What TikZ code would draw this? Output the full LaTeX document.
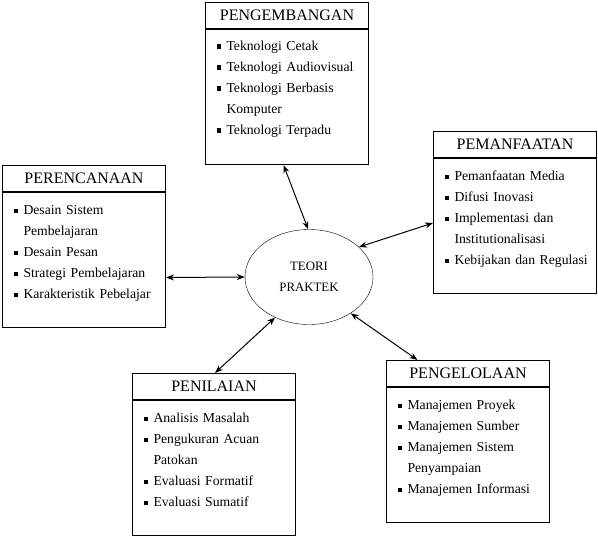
\documentclass[tikz,border=0pt]{standalone}
\usepackage{fontspec}
\setmainfont{Liberation Serif}
\usetikzlibrary{arrows.meta,positioning,shapes.geometric}
\newcommand{\itm}[1]{\makebox[10pt][l]{\raisebox{1.6pt}{\rule{4.2pt}{4.2pt}}}\mbox{#1}}
\newcommand{\cont}[1]{\hspace*{10pt}\mbox{#1}}
\newcommand{\tailgap}{\\[-5pt]\mbox{}}

\begin{document}
\begin{tikzpicture}[x=1pt,y=-1pt,
  every node/.style={font=\fontsize{13.7}{21}\selectfont},
  headbox/.style={draw,line width=1pt,minimum width=163pt,minimum height=26pt,
    inner sep=0pt,font=\fontsize{16}{18}\selectfont,anchor=north west},
  listbox/.style={draw,line width=1pt,text width=141pt,minimum height=135pt,
    inner xsep=11pt,inner ysep=3pt,align=left},
  link/.style={{Stealth[length=8pt,width=6pt]}-{Stealth[length=8pt,width=6pt]},
    line width=1pt}]
  \useasboundingbox (0,0) rectangle (598,536);

  % the five areas
  \node[headbox] (pengembangan) at (205,2) {PENGEMBANGAN};
  \node[listbox,below=0pt of pengembangan] (pengembangan-list)
    {\itm{Teknologi Cetak}\\ \itm{Teknologi Audiovisual}\\ \itm{Teknologi Berbasis}\\
     \cont{Komputer}\\ \itm{Teknologi Terpadu}\\[-2pt]\mbox{}};

  \node[headbox] (perencanaan) at (2,165) {PERENCANAAN};
  \node[listbox,below=0pt of perencanaan] (perencanaan-list)
    {\itm{Desain Sistem}\\ \cont{Pembelajaran}\\ \itm{Desain Pesan}\\
     \itm{Strategi Pembelajaran}\\ \itm{Karakteristik Pebelajar}\tailgap};

  \node[headbox] (pemanfaatan) at (433,131) {PEMANFAATAN};
  \node[listbox,below=0pt of pemanfaatan] (pemanfaatan-list)
    {\itm{Pemanfaatan Media}\\ \itm{Difusi Inovasi}\\ \itm{Implementasi dan}\\
     \cont{Institutionalisasi}\\ \itm{Kebijakan dan Regulasi}\tailgap};

  \node[headbox] (penilaian) at (132,373) {PENILAIAN};
  \node[listbox,below=0pt of penilaian] (penilaian-list)
    {\itm{Analisis Masalah}\\ \itm{Pengukuran Acuan}\\ \cont{Patokan}\\
     \itm{Evaluasi Formatif}\\ \itm{Evaluasi Sumatif}\tailgap};

  \node[headbox] (pengelolaan) at (386,360) {PENGELOLAAN};
  \node[listbox,below=0pt of pengelolaan] (pengelolaan-list)
    {\itm{Manajemen Proyek}\\ \itm{Manajemen Sumber}\\ \itm{Manajemen Sistem}\\
     \cont{Penyampaian}\\ \itm{Manajemen Informasi}\tailgap};

  % thick rule under each title
  \foreach \n in {pengembangan,perencanaan,pemanfaatan,penilaian,pengelolaan}
    \draw[line width=1.8pt] (\n.south west) -- (\n.south east);

  % centre
  \node[ellipse,draw,minimum width=128pt,minimum height=95pt,inner sep=0pt,
    align=center,font=\fontsize{12.8}{21}\selectfont] (teori) at (309,277)
    {TEORI\\PRAKTEK};

  \draw[link] ([xshift=-3.5pt]pengembangan-list.south) -- (teori.91);
  \draw[link] ([yshift=3pt]pemanfaatan-list.west) -- (teori.31);
  \draw[link] ([yshift=-17.5pt]perencanaan-list.east) -- (teori.west);
  \draw[link] ([xshift=1pt]penilaian.north) -- (teori.230);
  \draw[link] ([xshift=-50.5pt]pengelolaan.north) -- (teori.319);
\end{tikzpicture}
\end{document}
